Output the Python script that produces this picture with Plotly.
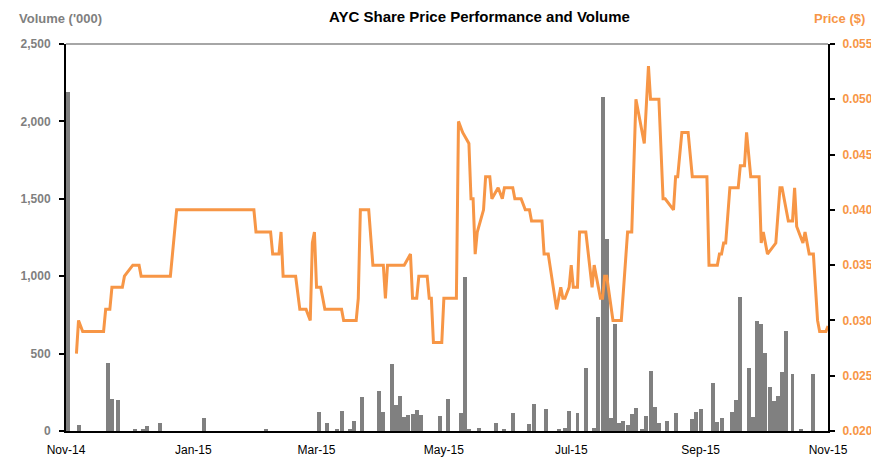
import plotly.graph_objects as go

# ---- Price series (key points) ----
price_dates = [
    "2014-11-06", "2014-11-07", "2014-11-09", "2014-11-19", "2014-11-20", "2014-11-22",
    "2014-11-23", "2014-11-28", "2014-11-29", "2014-12-03", "2014-12-06", "2014-12-07",
    "2014-12-21", "2014-12-24", "2015-01-30", "2015-01-31", "2015-02-07", "2015-02-08",
    "2015-02-11", "2015-02-12", "2015-02-13", "2015-02-19", "2015-02-21", "2015-02-24",
    "2015-02-26", "2015-02-27", "2015-02-28", "2015-03-01", "2015-03-03", "2015-03-05",
    "2015-03-13", "2015-03-14", "2015-03-20", "2015-03-21", "2015-03-22", "2015-03-26",
    "2015-03-28", "2015-04-02", "2015-04-03", "2015-04-04", "2015-04-12", "2015-04-15",
    "2015-04-16", "2015-04-18", "2015-04-19", "2015-04-23", "2015-04-24", "2015-04-25",
    "2015-04-26", "2015-04-30", "2015-05-01", "2015-05-07", "2015-05-08", "2015-05-10",
    "2015-05-13", "2015-05-14", "2015-05-15", "2015-05-16", "2015-05-17", "2015-05-20",
    "2015-05-21", "2015-05-23", "2015-05-24", "2015-05-27", "2015-05-29", "2015-05-30",
    "2015-06-03", "2015-06-04", "2015-06-07", "2015-06-09", "2015-06-11", "2015-06-12",
    "2015-06-17", "2015-06-18", "2015-06-20", "2015-06-24", "2015-06-26", "2015-06-27",
    "2015-06-28", "2015-06-30", "2015-07-01", "2015-07-02", "2015-07-04", "2015-07-05",
    "2015-07-08", "2015-07-11", "2015-07-12", "2015-07-15", "2015-07-16", "2015-07-17",
    "2015-07-18", "2015-07-21", "2015-07-25", "2015-07-26", "2015-07-28", "2015-07-30",
    "2015-08-01", "2015-08-05", "2015-08-07", "2015-08-08", "2015-08-12", "2015-08-14",
    "2015-08-15", "2015-08-19", "2015-08-20", "2015-08-21", "2015-08-23", "2015-08-26",
    "2015-08-28", "2015-09-04", "2015-09-05", "2015-09-09", "2015-09-10", "2015-09-11",
    "2015-09-12", "2015-09-13", "2015-09-15", "2015-09-19", "2015-09-20", "2015-09-22",
    "2015-09-23", "2015-09-25", "2015-09-29", "2015-09-30", "2015-10-01", "2015-10-03",
    "2015-10-07", "2015-10-09", "2015-10-10", "2015-10-13", "2015-10-15", "2015-10-16",
    "2015-10-17", "2015-10-19", "2015-10-20", "2015-10-21", "2015-10-23", "2015-10-25",
    "2015-10-27", "2015-10-28", "2015-10-31", "2015-11-01",
]
price_values = [
    0.027, 0.030, 0.029, 0.029, 0.031, 0.031,
    0.033, 0.033, 0.034, 0.035, 0.035, 0.034,
    0.034, 0.040, 0.040, 0.038, 0.038, 0.036,
    0.036, 0.038, 0.034, 0.034, 0.031, 0.031,
    0.030, 0.037, 0.038, 0.033, 0.033, 0.031,
    0.031, 0.030, 0.030, 0.032, 0.040, 0.040,
    0.035, 0.035, 0.032, 0.035, 0.035, 0.036,
    0.032, 0.032, 0.034, 0.034, 0.032, 0.032,
    0.028, 0.028, 0.032, 0.032, 0.048, 0.047,
    0.046, 0.041, 0.041, 0.036, 0.038, 0.040,
    0.043, 0.043, 0.041, 0.042, 0.041, 0.042,
    0.042, 0.041, 0.041, 0.040, 0.040, 0.039,
    0.039, 0.036, 0.036, 0.031, 0.033, 0.032,
    0.032, 0.033, 0.035, 0.033, 0.033, 0.038,
    0.038, 0.033, 0.035, 0.032, 0.032, 0.034,
    0.034, 0.030, 0.030, 0.033, 0.038, 0.038,
    0.050, 0.046, 0.053, 0.050, 0.050, 0.041,
    0.041, 0.040, 0.043, 0.043, 0.047, 0.047,
    0.043, 0.043, 0.035, 0.035, 0.036, 0.036,
    0.037, 0.037, 0.042, 0.042, 0.044, 0.044,
    0.047, 0.043, 0.043, 0.037, 0.038, 0.036,
    0.037, 0.042, 0.042, 0.039, 0.039, 0.042,
    0.0385, 0.0375, 0.037, 0.038, 0.036, 0.036,
    0.030, 0.029, 0.029, 0.0295,
]

# ---- Volume series ('000 shares) ----
volume_dates = [
    "2014-11-02", "2014-11-07", "2014-11-21", "2014-11-23", "2014-11-26", "2014-12-04",
    "2014-12-08", "2014-12-10", "2014-12-16", "2015-01-06", "2015-02-05", "2015-03-02",
    "2015-03-06", "2015-03-11", "2015-03-13", "2015-03-17", "2015-03-19", "2015-03-23",
    "2015-03-31", "2015-04-02", "2015-04-06", "2015-04-08", "2015-04-10", "2015-04-12",
    "2015-04-14", "2015-04-16", "2015-04-18", "2015-04-20", "2015-04-29", "2015-05-03",
    "2015-05-09", "2015-05-11", "2015-05-13", "2015-05-18", "2015-05-26", "2015-05-30",
    "2015-06-03", "2015-06-11", "2015-06-13", "2015-06-19", "2015-06-25", "2015-06-28",
    "2015-06-30", "2015-07-04", "2015-07-08", "2015-07-12", "2015-07-14", "2015-07-16",
    "2015-07-18", "2015-07-20", "2015-07-22", "2015-07-24", "2015-07-26", "2015-07-28",
    "2015-07-30", "2015-08-01", "2015-08-04", "2015-08-06", "2015-08-08", "2015-08-10",
    "2015-08-12", "2015-08-16", "2015-08-20", "2015-08-28", "2015-08-30", "2015-09-01",
    "2015-09-07", "2015-09-09", "2015-09-11", "2015-09-16", "2015-09-18", "2015-09-20",
    "2015-09-24", "2015-09-26", "2015-09-28", "2015-09-30", "2015-10-02", "2015-10-04",
    "2015-10-06", "2015-10-08", "2015-10-10", "2015-10-12", "2015-10-15", "2015-10-19",
    "2015-10-25",
]
volume_values = [
    2190, 37, 441, 207, 198, 8,
    10, 30, 52, 84, 15, 120,
    50, 12, 131, 12, 67, 218,
    260, 125, 431, 170, 227, 90,
    103, 110, 136, 103, 98, 205,
    118, 997, 15, 20, 54, 8,
    118, 45, 174, 142, 15, 22,
    129, 114, 405, 20, 734, 2155,
    1240, 86, 691, 54, 67, 39,
    110, 146, 15, 97, 388, 152,
    54, 66, 114, 78, 121, 140,
    312, 60, 82, 120, 202, 868,
    405, 92, 708, 691, 506, 282,
    196, 228, 383, 644, 366, 10,
    366,
]

title_text = "AYC Share Price Performance and Volume"
left_axis_title = "Volume ('000)"
right_axis_title = "Price ($)"

FONT = "Liberation Sans, Arial, sans-serif"
ORANGE = "#F79646"
GREY_BAR = "#808080"
GREY_TXT = "#7F7F7F"

fig = go.Figure()
fig.add_trace(go.Bar(
    x=volume_dates, y=volume_values, name="Volume",
    marker=dict(color=GREY_BAR, line=dict(width=0)),
    width=1.9 * 86400000, yaxis="y",
))
fig.add_trace(go.Scatter(
    x=price_dates, y=price_values, name="Price", mode="lines",
    line=dict(color=ORANGE, width=3), yaxis="y2",
))

fig.update_layout(
    width=871, height=457,
    margin=dict(l=66, r=43, t=44, b=26, autoexpand=False),
    paper_bgcolor="white", plot_bgcolor="white",
    showlegend=False,
    bargap=0,
    font=dict(family=FONT, size=12, color="#000000"),
    xaxis=dict(
        type="date", range=["2014-11-01", "2015-11-01"], automargin=False,
        tickmode="linear", tick0="2014-11-01", dtick="M2", tickformat="%b-%y",
        showgrid=False, showline=True, linecolor="#000000", linewidth=2,
        ticks="", ticklabelstandoff=7,
        tickfont=dict(size=12, color="#000000"), zeroline=False,
    ),
    yaxis=dict(
        range=[0, 2500], tickmode="linear", tick0=0, dtick=500, tickformat=",d",
        automargin=False,
        showgrid=False, showline=True, linecolor="#000000", linewidth=2,
        ticks="outside", ticklen=5, tickcolor="#000000", tickwidth=1.5,
        ticklabelstandoff=6,
        tickfont=dict(size=12, color=GREY_TXT, weight="bold"), zeroline=False,
    ),
    yaxis2=dict(
        range=[0.02, 0.055], tickmode="linear", tick0=0.02, dtick=0.005,
        tickformat=".3f", overlaying="y", side="right", automargin=False,
        showgrid=False, showline=True, linecolor="#000000", linewidth=2,
        ticks="outside", ticklen=5, tickcolor="#000000", tickwidth=1.5,
        ticklabelstandoff=5,
        tickfont=dict(size=12, color=ORANGE, weight="bold"), zeroline=False,
    ),
    shapes=[dict(type="line", xref="paper", yref="paper", x0=0, x1=1, y0=1, y1=1,
                 line=dict(color="#A6A6A6", width=2), layer="below")],
    annotations=[
        dict(text="<b>" + title_text + "</b>", xref="paper", yref="paper",
             x=0.5433, y=1.0698, xanchor="center", yanchor="middle", showarrow=False,
             font=dict(size=15, color="#000000", family=FONT)),
        dict(text="<b>" + left_axis_title + "</b>", xref="paper", yref="paper",
             x=-0.0643, y=1.067, xanchor="left", yanchor="middle", showarrow=False,
             font=dict(size=13, color=GREY_TXT, family=FONT)),
        dict(text="<b>" + right_axis_title + "</b>", xref="paper", yref="paper",
             x=1.0512, y=1.067, xanchor="right", yanchor="middle", showarrow=False,
             font=dict(size=13, color=ORANGE, family=FONT)),
    ],
)

fig.write_html(
    "out.html",
    config={"displayModeBar": False},
    post_script="document.body.style.margin='0';document.body.style.overflow='hidden';",
)
